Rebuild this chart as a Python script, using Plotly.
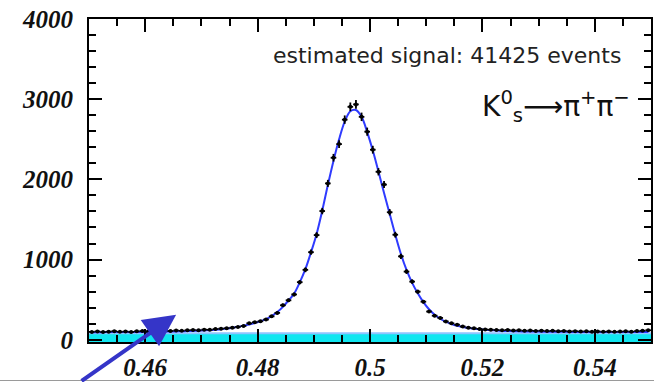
import numpy as np
import plotly.graph_objects as go

# pi+ pi- invariant mass histogram, 1 MeV bins from 0.450 to 0.550 GeV
bin_lo = 0.450
bin_width = 0.001
n_bins = 100

counts = [
    98, 104, 96, 101, 107, 99, 103, 97, 105, 108,
    102, 110, 106, 112, 109, 115, 111, 118, 121, 117,
    126, 124, 133, 138, 143, 151, 160, 172, 205, 218,
    230, 252, 292, 335, 430, 492, 565, 718, 872, 1092,
    1305, 1605, 1950, 2270, 2440, 2745, 2905, 2935, 2780, 2595,
    2370, 2095, 1935, 1590, 1310, 1040, 850, 725, 600, 475,
    352, 300, 272, 228, 205, 188, 165, 150, 142, 135,
    128, 125, 121, 118, 122, 115, 117, 112, 114, 110,
    113, 108, 111, 106, 109, 104, 107, 103, 105, 101,
    104, 100, 103, 99, 102, 105, 101, 108, 112, 118,
]

fit_total = [
    95, 95, 95, 96, 96, 96, 97, 97, 98, 98,
    99, 100, 101, 102, 103, 104, 106, 108, 110, 113,
    116, 120, 125, 131, 139, 149, 161, 176, 190, 208,
    230, 258, 295, 345, 410, 490, 575, 715, 880, 1090,
    1320, 1610, 1930, 2230, 2500, 2720, 2850, 2865, 2780, 2590,
    2360, 2100, 1830, 1570, 1310, 1070, 870, 710, 580, 470,
    380, 312, 262, 225, 196, 174, 158, 146, 137, 130,
    124, 119, 115, 112, 109, 107, 105, 104, 103, 102,
    101, 100, 100, 99, 99, 98, 98, 97, 97, 97,
    96, 96, 96, 96, 96, 96, 96, 96, 96, 96,
]

# combinatorial background level under the peak
bkg_x = [0.450, 0.550]
bkg_level = [82, 82]

x_range = [0.450, 0.550]
y_range = [-28, 4000]
x_tick_vals = [0.46, 0.48, 0.50, 0.52, 0.54]
x_tick_text = ["0.46", "0.48", "0.5", "0.52", "0.54"]
y_tick_vals = [0, 1000, 2000, 3000, 4000]
y_tick_text = ["0", "1000", "2000", "3000", "4000"]

signal_label = "estimated signal: 41425 events"
decay_label = "K<sup>0</sup><sub>s</sub>⟶π<sup>+</sup>π<sup>−</sup>"

centers = bin_lo + bin_width * (np.arange(n_bins) + 0.5)
counts = np.array(counts, dtype=float)

fig = go.Figure()

# cyan background band, filled up from the bottom of the frame
fig.add_trace(go.Scatter(
    x=bkg_x, y=[y_range[0]] * len(bkg_x), mode="lines",
    line=dict(width=0, color="rgba(0,0,0,0)"), showlegend=False, hoverinfo="skip",
))
fig.add_trace(go.Scatter(
    x=bkg_x, y=bkg_level, mode="lines", fill="tonexty",
    fillcolor="#10e6f0", line=dict(color="#8fc4ff", width=2),
    showlegend=False,
))

# fitted signal + background
fig.add_trace(go.Scatter(
    x=centers, y=fit_total, mode="lines", line_shape="spline",
    line=dict(color="#2f3bff", width=2), showlegend=False,
))

# data with statistical error bars
fig.add_trace(go.Scatter(
    x=centers, y=counts, mode="markers",
    marker=dict(color="black", size=4),
    error_y=dict(type="data", array=np.sqrt(counts), color="black", thickness=1.8, width=0),
    error_x=dict(type="constant", value=bin_width / 2, color="black", thickness=1.8, width=0),
    showlegend=False,
))

tick_font = dict(family="Liberation Serif", size=25, color="#111", style="italic", weight="bold")

fig.update_layout(
    xaxis=dict(
        range=x_range, tickvals=x_tick_vals, ticktext=x_tick_text,
        ticks="inside", ticklen=13, tickwidth=2, tickcolor="black",
        minor=dict(dtick=0.005, tick0=0.45, ticks="inside", ticklen=7, tickwidth=2, tickcolor="black"),
        showline=True, linecolor="black", linewidth=2, mirror="ticks",
        showgrid=False, zeroline=False, tickfont=tick_font, ticklabelstandoff=2,
        automargin=False,
    ),
    yaxis=dict(
        range=y_range, tickvals=y_tick_vals, ticktext=y_tick_text,
        ticks="inside", ticklen=13, tickwidth=2, tickcolor="black",
        minor=dict(dtick=200, tick0=0, ticks="inside", ticklen=7, tickwidth=2, tickcolor="black"),
        showline=True, linecolor="black", linewidth=2, mirror="ticks",
        showgrid=False, zeroline=False, tickfont=tick_font, ticklabelstandoff=9,
        automargin=False,
    ),
)

fig.add_annotation(
    x=0.950, y=0.887, xref="paper", yref="paper", xanchor="right", yanchor="middle",
    text=signal_label, showarrow=False,
    font=dict(family="DejaVu Sans", size=22, color="#222"),
)
fig.add_annotation(
    x=0.966, y=0.728, xref="paper", yref="paper", xanchor="right", yanchor="middle",
    text=decay_label, showarrow=False,
    font=dict(family="DejaVu Sans", size=28, color="#111"),
)

# pointer arrow to the low-mass sideband
fig.add_annotation(
    x=0.4655, y=311, xref="x", yref="y", text="", showarrow=True,
    ax=-96, ay=72, arrowhead=2, arrowsize=1.6, arrowwidth=4, arrowcolor="#3535c8",
)

# thin grey rule at the foot of the page
fig.add_shape(
    type="line", xref="paper", yref="paper", x0=-0.16, x1=1.01,
    y0=-38.5 / 323, y1=-38.5 / 323, line=dict(color="#9a9a9a", width=1),
)

fig.update_layout(
    width=654, height=382, margin=dict(l=89, r=3, t=19, b=40, autoexpand=False),
    paper_bgcolor="white", plot_bgcolor="white",
)

fig.write_html("out.html")
